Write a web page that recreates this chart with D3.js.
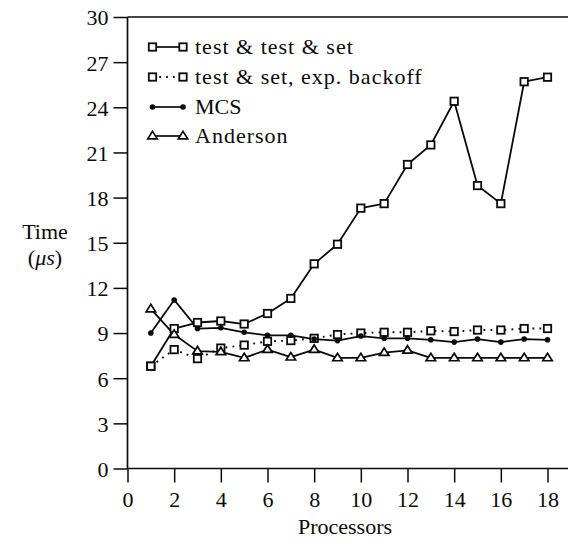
<!DOCTYPE html>
<html>
<head>
<meta charset="utf-8">
<script src="https://cdn.jsdelivr.net/npm/d3@7"></script>
<style>
  body { margin: 0; background: #fff; }
</style>
</head>
<body>
<svg id="chart" width="568" height="543"></svg>
<script>
// Lock acquisition time vs. number of processors
const processors = [1, 2, 3, 4, 5, 6, 7, 8, 9, 10, 11, 12, 13, 14, 15, 16, 17, 18];
const testTestSet = [6.8, 9.3, 9.7, 9.8, 9.6, 10.3, 11.3, 13.6, 14.9, 17.3, 17.6, 20.2, 21.5, 24.4, 18.8, 17.6, 25.7, 26.0];
const tasBackoff  = [6.8, 7.9, 7.3, 8.0, 8.2, 8.45, 8.5, 8.65, 8.9, 9.0, 9.05, 9.05, 9.15, 9.1, 9.2, 9.2, 9.3, 9.3];
const mcsLock     = [9.0, 11.2, 9.3, 9.35, 9.05, 8.85, 8.85, 8.6, 8.5, 8.8, 8.65, 8.65, 8.55, 8.4, 8.6, 8.4, 8.6, 8.55];
const anderson    = [10.6, 8.9, 7.8, 7.75, 7.35, 7.9, 7.4, 7.9, 7.35, 7.35, 7.7, 7.85, 7.35, 7.35, 7.35, 7.35, 7.35, 7.35];
const seriesNames = ["test & test & set", "test & set, exp. backoff", "MCS", "Anderson"];
const xTicks = [0, 2, 4, 6, 8, 10, 12, 14, 16, 18];
const yTicks = [0, 3, 6, 9, 12, 15, 18, 21, 24, 27, 30];
const xTitle = "Processors";

const svg = d3.select("#chart");
const ink = "#0a0a0a";
const FONT = '"Liberation Serif", "Times New Roman", serif';

const x = d3.scaleLinear().domain([0, 18]).range([127.5, 547.5]);
const y = d3.scaleLinear().domain([0, 30]).range([468.5, 17]);

// axes
const yAxis = d3.axisLeft(y).tickValues(yTicks).tickSize(14).tickPadding(5).tickSizeOuter(0);
const xAxis = d3.axisBottom(x).tickValues(xTicks).tickSize(14).tickPadding(9).tickSizeOuter(0);

const gy = svg.append("g").attr("transform", `translate(${x(0)},0)`).call(yAxis);
const gx = svg.append("g").attr("transform", `translate(0,${y(0)})`).call(xAxis);
[gy, gx].forEach(g => {
  g.select(".domain").remove();
  g.selectAll(".tick line").attr("stroke", ink).attr("stroke-width", 1.5);
  g.selectAll(".tick text")
    .style("font-family", FONT).style("font-size", "22px").style("fill", ink);
});
gy.selectAll(".tick text").attr("dy", "0.36em");

// frame lines: left axis, top rule, bottom axis
svg.append("line").attr("x1", x(0)).attr("x2", x(0)).attr("y1", y(30)).attr("y2", y(0))
  .attr("stroke", ink).attr("stroke-width", 1.7);
svg.append("line").attr("x1", x(0)).attr("x2", 568).attr("y1", y(30)).attr("y2", y(30))
  .attr("stroke", ink).attr("stroke-width", 1.5);
svg.append("line").attr("x1", x(0)).attr("x2", 568).attr("y1", y(0)).attr("y2", y(0))
  .attr("stroke", ink).attr("stroke-width", 1.7);

function label(px, py, anchor) {
  return svg.append("text").attr("x", px).attr("y", py).attr("text-anchor", anchor)
    .style("font-family", FONT).style("font-size", "22px").style("fill", ink);
}

// axis titles
label(345, 534, "middle").text(xTitle);
label(45, 239, "middle").text("Time");
const unit = label(45, 265, "middle");
unit.append("tspan").text("(");
unit.append("tspan").style("font-style", "italic").text("μs");
unit.append("tspan").text(")");

// series definitions
const series = [
  { name: seriesNames[0], values: testTestSet, marker: "square", dash: null },
  { name: seriesNames[1], values: tasBackoff, marker: "square", dash: "1.8,5.2" },
  { name: seriesNames[2], values: mcsLock, marker: "dot", dash: null },
  { name: seriesNames[3], values: anderson, marker: "triangle", dash: null }
];

function drawMarker(g, type, cx, cy) {
  if (type === "square") {
    g.append("rect").attr("x", cx - 3.7).attr("y", cy - 3.7).attr("width", 7.4).attr("height", 7.4)
      .attr("fill", "#fff").attr("stroke", ink).attr("stroke-width", 1.8);
  } else if (type === "dot") {
    g.append("circle").attr("cx", cx).attr("cy", cy).attr("r", 2.8).attr("fill", ink);
  } else {
    const h = 7.5, w = 9.5;
    g.append("path")
      .attr("d", `M${cx},${cy - h * 0.62} L${cx + w / 2},${cy + h * 0.38} L${cx - w / 2},${cy + h * 0.38} Z`)
      .attr("fill", "#fff").attr("stroke", ink).attr("stroke-width", 1.7);
  }
}

const line = d3.line().x(d => x(d[0])).y(d => y(d[1]));

// lines first, then markers on top
series.forEach(s => {
  const pts = processors.map((p, i) => [p, s.values[i]]);
  svg.append("path").datum(pts).attr("d", line)
    .attr("fill", "none").attr("stroke", ink)
    .attr("stroke-width", s.dash ? 1.9 : 1.8)
    .attr("stroke-dasharray", s.dash)
    .attr("stroke-linejoin", "round");
});
series.forEach(s => {
  const g = svg.append("g");
  processors.forEach((p, i) => drawMarker(g, s.marker, x(p), y(s.values[i])));
});

// legend
const legendRows = [47, 77, 107, 136];
series.forEach((s, i) => {
  const g = svg.append("g");
  const ly = legendRows[i];
  g.append("line").attr("x1", 152.5).attr("x2", 183).attr("y1", ly).attr("y2", ly)
    .attr("stroke", ink).attr("stroke-width", s.dash ? 1.9 : 1.7)
    .attr("stroke-dasharray", s.dash ? "1.8,5" : null);
  drawMarker(g, s.marker, 152.5, ly);
  drawMarker(g, s.marker, 183, ly);
  g.append("text").attr("x", 195).attr("y", ly + 7)
    .style("font-family", FONT).style("font-size", "22px").style("fill", ink)
    .style("letter-spacing", s.marker === "dot" ? "0px" : "1px").text(s.name);
});
</script>
</body>
</html>
